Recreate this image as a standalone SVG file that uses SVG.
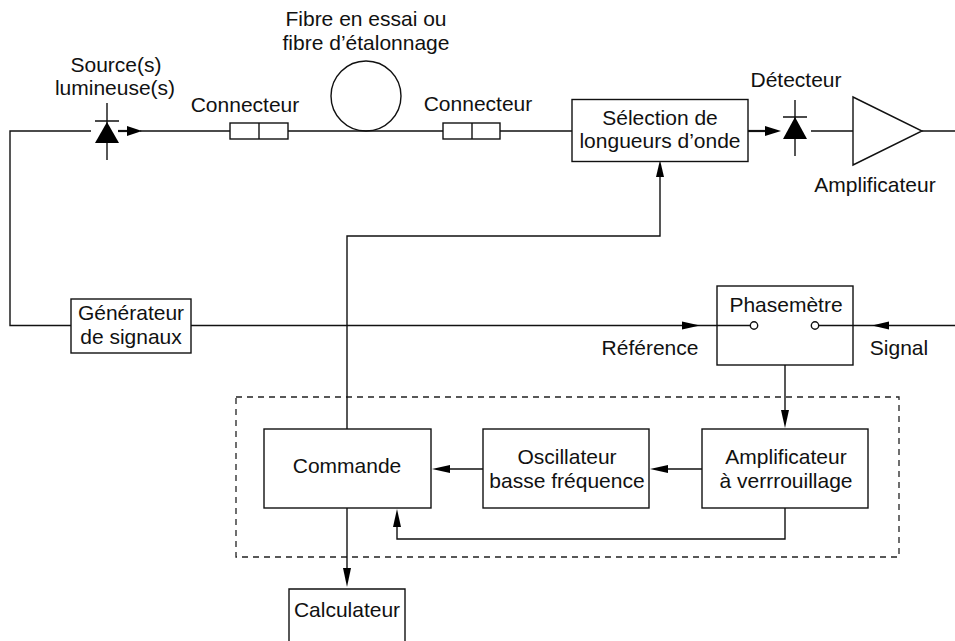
<svg xmlns="http://www.w3.org/2000/svg" width="955" height="641" viewBox="0 0 955 641">
<style>
text{font-family:"Liberation Sans",Arial,sans-serif;font-size:21px;fill:#111;text-anchor:middle}
.l{fill:none;stroke:#111;stroke-width:1.4}
.b{fill:#fff;stroke:#111;stroke-width:1.4}
.f{fill:#000;stroke:none}
.h{fill:none;stroke:#111;stroke-width:2.2}
.d{fill:none;stroke:#222;stroke-width:1.3;stroke-dasharray:6 5}
</style>
<rect width="955" height="641" fill="#fff"/>
<rect id="cadre" class="d" x="236" y="397" width="663" height="160"/>
<g id="connectors">
<path class="l" d="M91 131H10V325.500H71"/>
<path class="l" d="M140 131H230M288 131H443M500 131H572"/>
<path class="l" d="M811 131H853M922 131H955"/>
<path class="l" d="M191 325.500H751M819 325.500H955"/>
<path class="l" d="M347 429V236H660V175"/>
<path class="l" d="M785 365V413"/>
<path class="l" d="M483 469H446"/>
<path class="l" d="M702 469H665"/>
<path class="l" d="M785 508V539H397V525"/>
<path class="l" d="M347 508V572"/>
<path class="h" d="M118 131H130"/>
<path class="h" d="M746 131H768"/>
<polygon class="f" points="142,131 127,126 127,136"/>
<polygon class="f" points="781,131 765,126 765,136"/>
<polygon class="f" points="660,160 656,177 664,177"/>
<polygon class="f" points="700,325.500 682,321.500 682,329.500"/>
<polygon class="f" points="872,325.500 889,321.500 889,329.500"/>
<polygon class="f" points="785,428 781,410 789,410"/>
<polygon class="f" points="432,469 450,465 450,473"/>
<polygon class="f" points="650,469 668,465 668,473"/>
<polygon class="f" points="397,509 393,527 401,527"/>
<polygon class="f" points="347,587 343,568 351,568"/>
</g>
<g id="source">
<path class="l" d="M107 103V160M95 121H119"/>
<polygon class="f" points="107,122 95,143 119,143"/>
<text x="116" y="72">Source(s)</text>
<text x="115" y="95">lumineuse(s)</text>
</g>
<g id="connecteur1">
<rect class="b" x="230" y="123" width="58" height="16"/>
<path class="l" d="M259 123V139"/>
<text x="245" y="112">Connecteur</text>
</g>
<g id="fibre">
<circle class="l" cx="366" cy="96" r="35"/>
<text x="366" y="26">Fibre en essai ou</text>
<text x="366" y="50">fibre d’étalonnage</text>
</g>
<g id="connecteur2">
<rect class="b" x="443" y="123" width="57" height="16"/>
<path class="l" d="M472 123V139"/>
<text x="478" y="111">Connecteur</text>
</g>
<g id="selection">
<rect class="b" x="572" y="99.500" width="176" height="62"/>
<text x="660" y="125">Sélection de</text>
<text x="660" y="148">longueurs d’onde</text>
</g>
<g id="detecteur">
<path class="l" d="M795 100V156M783 117H807"/>
<polygon class="f" points="795,117 783,139 807,139"/>
<text x="796" y="87">Détecteur</text>
</g>
<g id="amplificateur">
<polygon class="b" points="853,97 922,131 853,165"/>
<text x="875" y="192">Amplificateur</text>
</g>
<g id="generateur">
<rect class="b" x="71" y="299" width="120" height="54"/>
<text x="131" y="320">Générateur</text>
<text x="131" y="344">de signaux</text>
</g>
<g id="phasemetre">
<rect class="l" x="717" y="286" width="136" height="79"/>
<circle class="b" cx="754" cy="325.500" r="3.700"/>
<circle class="b" cx="815" cy="325.500" r="3.700"/>
<text x="786" y="312">Phasemètre</text>
<text x="650" y="355">Référence</text>
<text x="899" y="355">Signal</text>
</g>
<g id="commande">
<rect class="b" x="264" y="429" width="167" height="79"/>
<text x="347" y="473">Commande</text>
</g>
<g id="oscillateur">
<rect class="b" x="483" y="429" width="166" height="79"/>
<text x="567" y="464">Oscillateur</text>
<text x="567" y="488">basse fréquence</text>
</g>
<g id="verrouillage">
<rect class="b" x="702" y="429" width="166" height="79"/>
<text x="786" y="464">Amplificateur</text>
<text x="786" y="488">à verrrouillage</text>
</g>
<g id="calculateur">
<path class="l" d="M289 641V589H405V641"/>
<text x="347" y="617">Calculateur</text>
</g>
</svg>
